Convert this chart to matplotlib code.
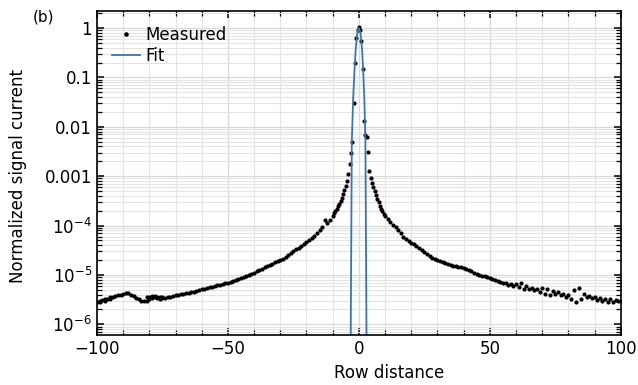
import numpy as np
import matplotlib
matplotlib.use('Agg')
import matplotlib.pyplot as plt
from matplotlib.ticker import LogLocator, MultipleLocator, FuncFormatter, NullFormatter

# measured points, left tail (1 row steps)
left_x = list(range(-100, -10))
left_y = [2.9e-6, 3.0e-6, 3.1e-6, 3.2e-6, 3.3e-6, 3.5e-6, 3.6e-6, 3.8e-6, 3.9e-6, 4.0e-6,
          4.2e-6, 4.4e-6, 4.3e-6, 4.0e-6, 3.7e-6, 3.4e-6, 3.2e-6, 3.0e-6, 2.95e-6, 3.0e-6,
          3.3e-6, 3.4e-6, 3.5e-6, 3.4e-6, 3.3e-6, 3.4e-6, 3.4e-6, 3.5e-6, 3.6e-6, 3.7e-6,
          3.9e-6, 4.0e-6, 4.1e-6, 4.2e-6, 4.3e-6, 4.4e-6, 4.5e-6, 4.6e-6, 4.8e-6, 4.9e-6,
          5.1e-6, 5.2e-6, 5.4e-6, 5.6e-6, 5.8e-6, 6.0e-6, 6.2e-6, 6.4e-6, 6.6e-6, 6.8e-6,
          7.0e-6, 7.3e-6, 7.6e-6, 7.9e-6, 8.2e-6, 8.6e-6, 9.0e-6, 9.4e-6, 9.9e-6, 1.05e-5,
          1.1e-5, 1.18e-5, 1.25e-5, 1.33e-5, 1.42e-5, 1.5e-5, 1.6e-5, 1.7e-5, 1.8e-5, 1.9e-5,
          2.0e-5, 2.15e-5, 2.3e-5, 2.55e-5, 2.8e-5, 3.05e-5, 3.3e-5, 3.55e-5, 3.8e-5, 4.2e-5,
          4.6e-5, 5.0e-5, 5.5e-5, 6.2e-5, 7.0e-5, 8.0e-5, 9.5e-5, 1.3e-4, 1.15e-4, 1.3e-4]

# core around the peak (half row steps)
core_x = [-10, -9.5, -9, -8.5, -8, -7.5, -7, -6.5, -6, -5.5, -5, -4.5, -4, -3.5, -3, -2.5,
          -2, -1.5, -1, -0.5, 0, 0.5, 1, 1.5, 2, 2.5, 3, 3.5, 4, 4.5, 5, 5.5, 6, 6.5, 7,
          7.5, 8, 8.5, 9, 9.5, 10]
core_y = [1.6e-4, 1.8e-4, 2.0e-4, 2.2e-4, 2.5e-4, 2.8e-4, 3.2e-4, 3.7e-4, 4.3e-4, 5.2e-4,
          6.2e-4, 8.0e-4, 1.1e-3, 1.8e-3, 2.9e-3, 5.0e-3, 0.03, 0.2, 0.63, 0.93, 1.03, 0.9,
          0.55, 0.15, 0.013, 6.7e-3, 6.2e-3, 3.1e-3, 1.3e-3, 9.0e-4, 7.2e-4, 6.0e-4, 5.0e-4,
          4.2e-4, 3.5e-4, 3.0e-4, 2.5e-4, 2.2e-4, 1.95e-4, 1.75e-4, 1.6e-4]

# right tail (1 row steps)
right_x = list(range(11, 56))
right_y = [1.35e-4, 1.18e-4, 1.05e-4, 9.5e-5, 8.2e-5, 7.0e-5, 6.0e-5, 5.4e-5, 4.9e-5, 4.5e-5,
           4.2e-5, 3.9e-5, 3.55e-5, 3.2e-5, 2.9e-5, 2.6e-5, 2.4e-5, 2.25e-5, 2.1e-5, 2.0e-5,
           1.9e-5, 1.82e-5, 1.74e-5, 1.66e-5, 1.6e-5, 1.54e-5, 1.5e-5, 1.46e-5, 1.42e-5, 1.38e-5,
           1.32e-5, 1.25e-5, 1.18e-5, 1.12e-5, 1.06e-5, 1.0e-5, 9.7e-6, 9.4e-6, 9.0e-6, 8.6e-6,
           8.2e-6, 7.9e-6, 7.6e-6, 7.3e-6, 7.0e-6]

# noisy far right: two interleaved branches
far_x = list(range(56, 101, 2))
far_upper = [7.0e-6, 6.6e-6, 6.6e-6, 6.8e-6, 6.0e-6, 5.5e-6, 5.2e-6, 5.4e-6, 5.2e-6, 4.8e-6,
             4.5e-6, 4.2e-6, 4.0e-6, 5.0e-6, 5.4e-6, 4.2e-6, 3.7e-6, 3.5e-6, 3.4e-6, 3.3e-6,
             3.2e-6, 3.1e-6, 3.0e-6]
far_x2 = list(range(57, 101, 2))
far_lower = [6.3e-6, 5.9e-6, 5.6e-6, 5.3e-6, 5.1e-6, 4.9e-6, 4.6e-6, 4.2e-6, 3.9e-6, 4.1e-6,
             3.9e-6, 3.6e-6, 3.2e-6, 2.9e-6, 3.2e-6, 3.6e-6, 3.4e-6, 3.1e-6, 3.0e-6, 2.8e-6,
             2.9e-6, 2.95e-6]

# second branch on the far left
extra_x = [-99, -97, -95, -81, -80, -79, -78, -77, -76, -75]
extra_y = [2.8e-6, 3.0e-6, 3.3e-6, 3.5e-6, 3.6e-6, 3.7e-6, 3.7e-6, 3.6e-6, 3.6e-6, 3.5e-6]

# fit curve
fit_x = [-3.3, -2.7, -2.2, -1.7, -1.2, -0.6, 0, 0.6, 1.2, 1.7, 2.1, 2.5, 3.1]
fit_y = [1e-8, 5e-3, 0.035, 0.13, 0.38, 0.8, 1.0, 0.8, 0.38, 0.12, 0.035, 5e-3, 1e-8]

meas_x = left_x + core_x + right_x + far_x + far_x2 + extra_x
meas_y = left_y + core_y + right_y + far_upper + far_lower + extra_y

plt.rcParams['font.size'] = 12

fig = plt.figure(figsize=(6.38, 3.85), dpi=100)
ax = fig.add_axes([0.152, 0.13, 0.821, 0.841])

ax.plot(meas_x, meas_y, 'o', color='black', markersize=3.0, markeredgewidth=0, label='Measured')
ax.plot(fit_x, fit_y, '-', color='#3d74ad', linewidth=1.3, label='Fit')

ax.set_yscale('log')
ax.set_xlim(-100, 100)

ax.xaxis.set_major_locator(MultipleLocator(50))
ax.xaxis.set_minor_locator(MultipleLocator(10))
ax.yaxis.set_major_locator(LogLocator(base=10, numticks=20))
ax.yaxis.set_minor_locator(LogLocator(base=10, subs=np.arange(2, 10), numticks=20))
ax.yaxis.set_minor_formatter(NullFormatter())

names = {0: '1', -1: '0.1', -2: '0.01', -3: '0.001'}

def ylab(v, pos):
    e = int(round(np.log10(v)))
    if e in names:
        return names[e]
    return r'$10^{%d}$' % e

ax.yaxis.set_major_formatter(FuncFormatter(ylab))
ax.set_ylim(6.1e-7, 2.2)

ax.grid(True, which='major', color='#d9d9d9', linewidth=0.9)
ax.grid(True, which='minor', color='#e4e4e4', linewidth=0.8)
ax.set_axisbelow(True)

ax.tick_params(which='both', direction='in', top=True, right=True)
ax.tick_params(which='major', length=5, width=1.1)
ax.tick_params(which='minor', length=3.5, width=0.9)
for s in ax.spines.values():
    s.set_linewidth(1.2)

ax.set_xlabel('Row distance')
ax.xaxis.set_label_coords(0.557, -0.09)
ax.set_ylabel('Normalized signal current')
ax.yaxis.set_label_coords(-0.134, 0.49)

ax.legend(loc='upper left', frameon=False, numpoints=1, handlelength=1.7,
          handletextpad=0.3, borderaxespad=0.5, labelspacing=0.15, markerscale=1.1)

fig.text(0.052, 0.955, '(b)', fontsize=11, ha='left', va='center')

fig.savefig('out.png', dpi=100)
